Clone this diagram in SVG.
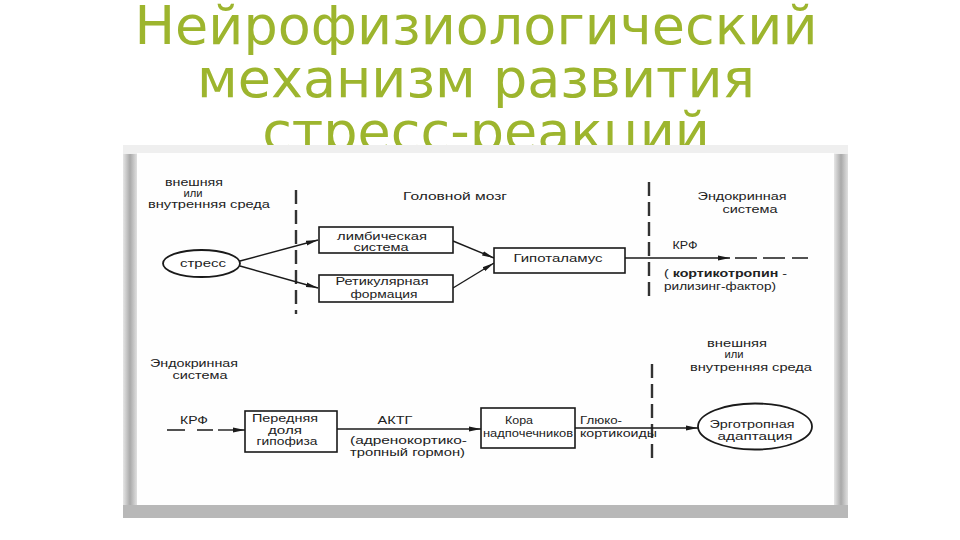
<svg xmlns="http://www.w3.org/2000/svg" width="960" height="540" viewBox="0 0 960 540">
<defs>
<style>
.title{font-family:"DejaVu Sans",sans-serif;font-size:54px;fill:#9db52e;text-anchor:middle}
.t{font-family:"Liberation Sans",Arial,sans-serif;font-size:10.5px;fill:#222}
.box{fill:#fff;stroke:#1a1a1a;stroke-width:1.6}
.ell{fill:#fff;stroke:#1a1a1a;stroke-width:1.8}
.ln{fill:none;stroke:#1a1a1a;stroke-width:1.4}
.dash{fill:none;stroke:#1a1a1a;stroke-width:1.4;stroke-dasharray:18 8}
.vdash{fill:none;stroke:#333;stroke-width:2.4;stroke-dasharray:14 6}
</style>
<marker id="arr" viewBox="0 0 12 6" refX="12" refY="3" markerWidth="12" markerHeight="6" markerUnits="userSpaceOnUse" orient="auto">
<path d="M0,0.6 L12,3 L0,5.4 Z" fill="#1a1a1a"/>
</marker>
<linearGradient id="side" x1="0" y1="0" x2="1" y2="0">
<stop offset="0" stop-color="#e6e6e6"/><stop offset="0.5" stop-color="#a9a9a9"/><stop offset="1" stop-color="#e0e0e0"/>
</linearGradient>
</defs>
<rect width="960" height="540" fill="#fff"/>
<g id="title">
<text class="title" x="476" y="44">Нейрофизиологический</text>
<text class="title" x="476" y="97">механизм развития</text>
<text class="title" x="486" y="150">стресс-реакций</text>
</g>
<g id="frame">
<rect x="123" y="145" width="725" height="373" fill="#cfcfcf"/>
<rect x="123" y="145" width="725" height="9" fill="#efefef"/>
<rect x="123" y="154" width="14" height="364" fill="url(#side)"/>
<rect x="834" y="154" width="14" height="364" fill="url(#side)"/>
<rect x="123" y="505" width="725" height="13" fill="#b8b8b8"/>
<rect x="137" y="153" width="697" height="352" fill="#fefefe"/>
</g>
<g id="zones">
<path class="vdash" d="M296,190 V314"/>
<path class="vdash" d="M649,182 V298"/>
<path class="vdash" d="M652,364 V462"/>
<text class="t" x="194" y="186" text-anchor="middle" textLength="58" lengthAdjust="spacingAndGlyphs">внешняя</text>
<text class="t" x="193" y="197" text-anchor="middle" textLength="19" lengthAdjust="spacingAndGlyphs">или</text>
<text class="t" x="209" y="208" text-anchor="middle" textLength="122" lengthAdjust="spacingAndGlyphs">внутренняя среда</text>
<text class="t" x="455" y="200" text-anchor="middle" textLength="104" lengthAdjust="spacingAndGlyphs">Головной мозг</text>
<text class="t" x="742" y="200" text-anchor="middle" textLength="89" lengthAdjust="spacingAndGlyphs">Эндокринная</text>
<text class="t" x="750" y="213" text-anchor="middle" textLength="55" lengthAdjust="spacingAndGlyphs">система</text>
<text class="t" x="194" y="367" text-anchor="middle" textLength="88" lengthAdjust="spacingAndGlyphs">Эндокринная</text>
<text class="t" x="200" y="379" text-anchor="middle" textLength="55" lengthAdjust="spacingAndGlyphs">система</text>
<text class="t" x="737" y="347" text-anchor="middle" textLength="60" lengthAdjust="spacingAndGlyphs">внешняя</text>
<text class="t" x="734" y="358" text-anchor="middle" textLength="19" lengthAdjust="spacingAndGlyphs">или</text>
<text class="t" x="751" y="371" text-anchor="middle" textLength="122" lengthAdjust="spacingAndGlyphs">внутренняя среда</text>
</g>
<g id="connectors">
<path class="ln" d="M240,261 L318,240" marker-end="url(#arr)"/>
<path class="ln" d="M240,266 L318,288" marker-end="url(#arr)"/>
<path class="ln" d="M453,241 L494,258" marker-end="url(#arr)"/>
<path class="ln" d="M453,288 L494,263" marker-end="url(#arr)"/>
<path class="ln" d="M625,258 L730,258" marker-end="url(#arr)"/>
<path class="ln" d="M735,258 H757 M763,258 H785 M792,258 H808"/>
<path class="ln" d="M167,430 H185 M197,430 H213"/>
<path class="ln" d="M218,430 L245,430" marker-end="url(#arr)"/>
<path class="ln" d="M337,429 L481,429" marker-end="url(#arr)"/>
<path class="ln" d="M575,428 L698,428" marker-end="url(#arr)"/>
<text class="t" x="685" y="249" text-anchor="middle" textLength="25" lengthAdjust="spacingAndGlyphs">КРФ</text>
<text class="t" x="664" y="277" textLength="123" lengthAdjust="spacingAndGlyphs">( <tspan font-weight="bold">кортикотропин</tspan> -</text>
<text class="t" x="664" y="290" textLength="112" lengthAdjust="spacingAndGlyphs">рилизинг-фактор)</text>
<text class="t" x="194" y="424" text-anchor="middle" textLength="28" lengthAdjust="spacingAndGlyphs">КРФ</text>
<text class="t" x="395" y="424" text-anchor="middle" textLength="35" lengthAdjust="spacingAndGlyphs">АКТГ</text>
<text class="t" x="350" y="444" textLength="117" lengthAdjust="spacingAndGlyphs">(адренокортико-</text>
<text class="t" x="350" y="456" textLength="115" lengthAdjust="spacingAndGlyphs">тропный гормон)</text>
<text class="t" x="580" y="424" textLength="42" lengthAdjust="spacingAndGlyphs">Глюко-</text>
<text class="t" x="580" y="437" textLength="77" lengthAdjust="spacingAndGlyphs">кортикоиды</text>
</g>
<g id="stress">
<ellipse class="ell" cx="201.5" cy="263.5" rx="38.5" ry="13.5"/>
<text class="t" x="203" y="267" text-anchor="middle" textLength="46" lengthAdjust="spacingAndGlyphs">стресс</text>
</g>
<g id="limbic">
<rect class="box" x="319" y="227" width="134" height="26"/>
<text class="t" x="382" y="240" text-anchor="middle" textLength="90" lengthAdjust="spacingAndGlyphs">лимбическая</text>
<text class="t" x="381" y="251" text-anchor="middle" textLength="55" lengthAdjust="spacingAndGlyphs">система</text>
</g>
<g id="reticular">
<rect class="box" x="319" y="275" width="134" height="27"/>
<text class="t" x="382" y="285" text-anchor="middle" textLength="93" lengthAdjust="spacingAndGlyphs">Ретикулярная</text>
<text class="t" x="384" y="298" text-anchor="middle" textLength="67" lengthAdjust="spacingAndGlyphs">формация</text>
</g>
<g id="hypothalamus">
<rect class="box" x="494" y="248" width="131" height="25"/>
<text class="t" x="558" y="262" text-anchor="middle" textLength="89" lengthAdjust="spacingAndGlyphs">Гипоталамус</text>
</g>
<g id="pituitary">
<rect class="box" x="245" y="411" width="92" height="41"/>
<text class="t" x="285" y="422" text-anchor="middle" textLength="66" lengthAdjust="spacingAndGlyphs">Передняя</text>
<text class="t" x="285" y="434" text-anchor="middle" textLength="34" lengthAdjust="spacingAndGlyphs">доля</text>
<text class="t" x="287" y="445" text-anchor="middle" textLength="61" lengthAdjust="spacingAndGlyphs">гипофиза</text>
</g>
<g id="adrenal">
<rect class="box" x="481" y="408" width="94" height="40"/>
<text class="t" x="519" y="424" text-anchor="middle" textLength="28" lengthAdjust="spacingAndGlyphs">Кора</text>
<text class="t" x="528" y="437" text-anchor="middle" font-size="8" textLength="90" lengthAdjust="spacingAndGlyphs">надпочечников</text>
</g>
<g id="adaptation">
<ellipse class="ell" cx="755" cy="426.5" rx="57" ry="23"/>
<text class="t" x="752" y="428" text-anchor="middle" textLength="85" lengthAdjust="spacingAndGlyphs">Эрготропная</text>
<text class="t" x="755" y="440" text-anchor="middle" textLength="75" lengthAdjust="spacingAndGlyphs">адаптация</text>
</g>
</svg>
